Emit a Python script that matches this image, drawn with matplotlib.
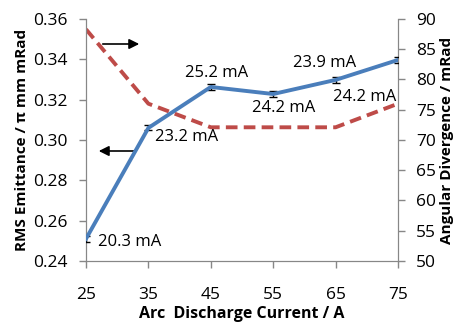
import matplotlib.pyplot as plt

current = [25, 35, 45, 55, 65, 75]
emittance = [0.251, 0.306, 0.3263, 0.3228, 0.3298, 0.3397]
emit_err = [0.0015, 0.0012, 0.0015, 0.0013, 0.0013, 0.0013]
divergence = [88.3, 76.0, 72.1, 72.1, 72.1, 76.0]
beam_labels = ["20.3 mA", "23.2 mA", "25.2 mA", "24.2 mA", "23.9 mA", "24.2 mA"]
x_ticks = [25, 35, 45, 55, 65, 75]

plt.rcParams['font.family'] = ['Open Sans', 'DejaVu Sans']
fig = plt.figure(figsize=(4.63, 3.27), dpi=100)
ax = fig.add_axes([86/463, 1-261/327, 312/463, 242/327])
ax2 = ax.twinx()

gray = '#878787'
ax.errorbar(current, emittance, yerr=emit_err, color='#4a7ebb', lw=2.8,
            ecolor='black', elinewidth=1, capsize=3, capthick=1, zorder=3)
ax2.plot(current, divergence, color='#be4b48', lw=2.8, ls=(0, (3, 1.6)), zorder=2)

ax.set_xlim(25, 75)
ax.set_ylim(0.24, 0.36)
ax2.set_ylim(50, 90)
ax.set_xticks(x_ticks)
yt = [0.24, 0.26, 0.28, 0.30, 0.32, 0.34, 0.36]
ax.set_yticks(yt)
ax.set_yticklabels([f"{v:.2f}" for v in yt])
ax2.set_yticks(range(50, 91, 5))

for a in (ax, ax2):
    a.spines['top'].set_visible(False)
    for s in ('left', 'right', 'bottom'):
        a.spines[s].set_color(gray)
    a.tick_params(colors=gray, labelcolor='black', labelsize=12.5, length=5, width=1, pad=8)
ax.tick_params(axis='x', pad=14)
ax.set_zorder(ax2.get_zorder() + 1)
ax.patch.set_visible(False)

ax.set_ylabel('RMS Emittance / π mm mRad', fontsize=11, fontweight='bold', labelpad=3)
ax2.set_ylabel('Angular Divergence / mRad', fontsize=11, fontweight='bold', labelpad=3)
ax.set_xlabel('Arc  Discharge Current / A', fontsize=11.5, fontweight='bold', labelpad=2)

# offsets in pixels: (dx, dy, ha)
offsets = [(12, -3, 'left'), (7, -9, 'left'), (6, 14, 'center'),
           (10, -14, 'center'), (-11, 17, 'center'), (-33, -37, 'center')]
for x, y, lab, (dx, dy, ha) in zip(current, emittance, beam_labels, offsets):
    ax.annotate(lab, (x, y), xytext=(dx, dy), textcoords='offset pixels',
                ha=ha, va='center', fontsize=12)

ax.annotate('', xy=(142/463, 1-44/327), xytext=(100/463, 1-44/327), xycoords='figure fraction',
            arrowprops=dict(arrowstyle='-|>', color='black', lw=1.2, mutation_scale=15))
ax.annotate('', xy=(96/463, 1-151/327), xytext=(137/463, 1-151/327), xycoords='figure fraction',
            arrowprops=dict(arrowstyle='-|>', color='black', lw=1.2, mutation_scale=15))

fig.savefig('out.png', dpi=100)
